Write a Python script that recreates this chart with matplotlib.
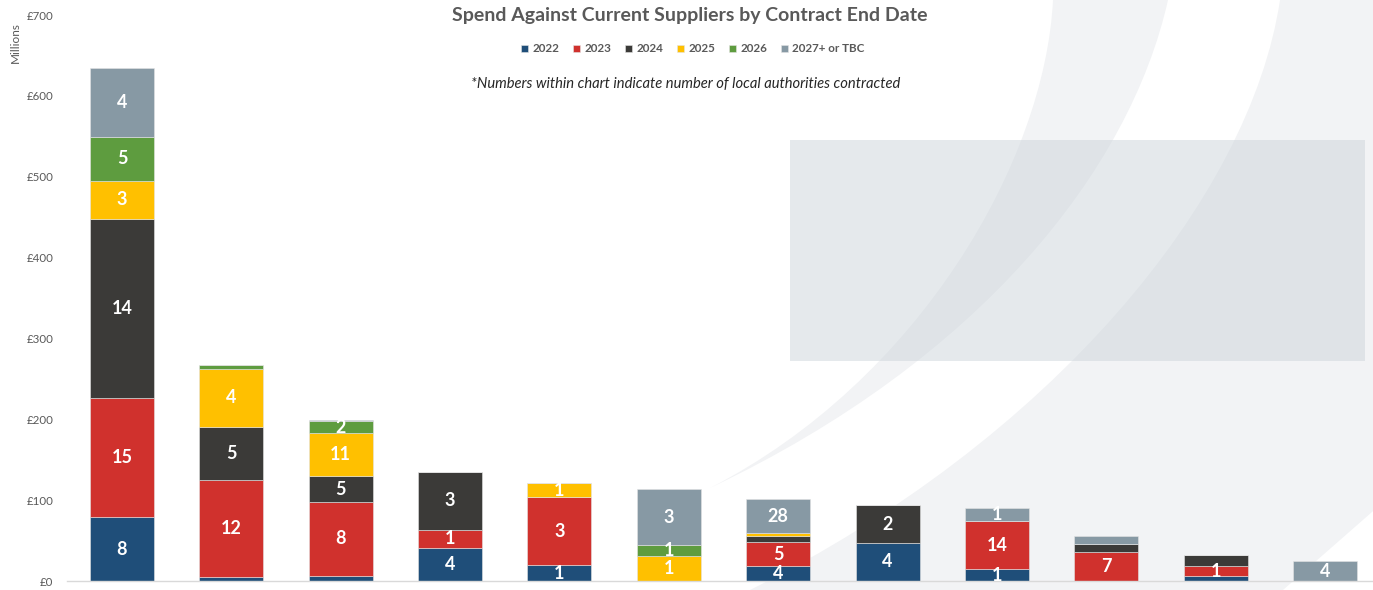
import matplotlib
matplotlib.use('Agg')
import numpy as np
from matplotlib import pyplot as plt
from matplotlib.path import Path
from matplotlib.patches import PathPatch, Rectangle

# suppliers are anonymised in the source chart, so categories have no names
suppliers = [''] * 12
years = ['2022', '2023', '2024', '2025', '2026', '2027+ or TBC']
colors = ['#1F4E79', '#D0312D', '#3B3A38', '#FFC000', '#5E9C3F', '#8799A4']

# spend in £ millions per contract end year
spend_2022 = [79, 5, 6.5, 41, 19.5, 0, 18, 47, 14.5, 0, 6.5, 0]
spend_2023 = [147, 120, 91, 22, 84, 0, 30, 0, 60, 36, 11.5, 0]
spend_2024 = [222, 66, 32, 72, 0, 0, 7.5, 46.5, 0, 10, 14.5, 0]
spend_2025 = [46.5, 71, 53, 0, 18, 30.5, 3.3, 0, 0, 0, 0, 0]
spend_2026 = [55, 5, 15, 0, 0, 13.5, 0, 0, 0, 0, 0, 0]
spend_2027 = [85, 0, 2, 0, 0, 70, 43, 0, 15.5, 10, 0, 24.5]

# number of local authorities contracted (blank = no label shown)
la_2022 = ['8', '', '', '4', '1', '', '4', '4', '1', '', '', '']
la_2023 = ['15', '12', '8', '1', '3', '', '5', '', '14', '7', '1', '']
la_2024 = ['14', '5', '5', '3', '', '', '', '2', '', '', '', '']
la_2025 = ['3', '4', '11', '', '1', '1', '', '', '', '', '', '']
la_2026 = ['5', '', '2', '', '', '1', '', '', '', '', '', '']
la_2027 = ['4', '', '', '', '', '3', '28', '', '1', '', '', '4']

series = [spend_2022, spend_2023, spend_2024, spend_2025, spend_2026, spend_2027]
labels = [la_2022, la_2023, la_2024, la_2025, la_2026, la_2027]

plt.rcParams['font.family'] = ['Lato', 'DejaVu Sans']
grey = '#595959'

fig = plt.figure(figsize=(13.73, 5.90), dpi=100)

# decorative watermark in the background (pixel coordinates)
bg = fig.add_axes([0, 0, 1, 1], zorder=-5)
bg.set_xlim(0, 1373)
bg.set_ylim(590, 0)
bg.axis('off')
band_a = Path([(1053, 0), (1045, 160), (920, 380), (710, 488),
               (980, 360), (1130, 170), (1168, 0), (1053, 0)],
              [Path.MOVETO, Path.CURVE4, Path.CURVE4, Path.CURVE4,
               Path.CURVE4, Path.CURVE4, Path.CURVE4, Path.CLOSEPOLY])
band_b = Path([(1280, 0), (1250, 200), (1050, 440), (750, 590),
               (1283, 590), (1380, 505), (1380, 0), (1280, 0)],
              [Path.MOVETO, Path.CURVE4, Path.CURVE4, Path.CURVE4,
               Path.LINETO, Path.LINETO, Path.LINETO, Path.CLOSEPOLY])
for p in (band_a, band_b):
    bg.add_patch(PathPatch(p, facecolor='#F2F3F5', edgecolor='none'))
bg.add_patch(Rectangle((790, 140), 575, 221, facecolor='#CDD5DB', alpha=0.5, edgecolor='none'))

ax = fig.add_axes([67.3 / 1373, 9 / 590, 1312.4 / 1373, 566 / 590])
ax.patch.set_alpha(0)

x = np.arange(len(suppliers))
bottom = np.zeros(len(suppliers))
handles = []
for vals, labs, year, c in zip(series, labels, years, colors):
    vals = np.array(vals, dtype=float)
    bars = ax.bar(x, vals, 0.585, bottom=bottom, color=c, edgecolor='#E4E4E4',
                  linewidth=0.4, label=year)
    handles.append(bars)
    for xi, v, b, lab in zip(x, vals, bottom, labs):
        if lab:
            ax.text(xi, b + v / 2, lab, ha='center', va='center', color='white',
                    fontsize=13, fontweight='bold')
    bottom += vals

ax.set_xlim(-0.5, len(suppliers) - 0.5)
ax.set_ylim(0, 700)
ax.set_yticks(range(0, 701, 100))
ax.set_yticklabels(['£' + str(v) for v in range(0, 701, 100)])
ax.set_xticks(x)
ax.set_xticklabels(suppliers)
ax.tick_params(axis='both', length=0, colors=grey, labelsize=8.3)
ax.tick_params(axis='y', pad=10)
for s in ['top', 'right', 'left']:
    ax.spines[s].set_visible(False)
ax.spines['bottom'].set_color('#D9D9D9')
ax.spines['bottom'].set_linewidth(1)

fig.text(15 / 1373, 1 - 43 / 590, 'Millions', rotation=90, ha='center', va='center',
         color=grey, fontsize=8.5)
fig.text(690 / 1373, 1 - 15 / 590, 'Spend Against Current Suppliers by Contract End Date',
         ha='center', va='center', color=grey, fontsize=14, fontweight='bold')
fig.text(686 / 1373, 1 - 84 / 590,
         '*Numbers within chart indicate number of local authorities contracted',
         ha='center', va='center', color='#262626', fontsize=10.6, style='italic')
leg = fig.legend(handles=handles, labels=years, loc='center', ncol=6,
                 bbox_to_anchor=(693 / 1373, 1 - 49 / 590), frameon=False,
                 handlelength=0.6, handleheight=0.6, handletextpad=0.35,
                 columnspacing=1.2, prop={'size': 8.4, 'weight': 'bold'})
for t in leg.get_texts():
    t.set_color(grey)

fig.savefig('out.png', dpi=100)
